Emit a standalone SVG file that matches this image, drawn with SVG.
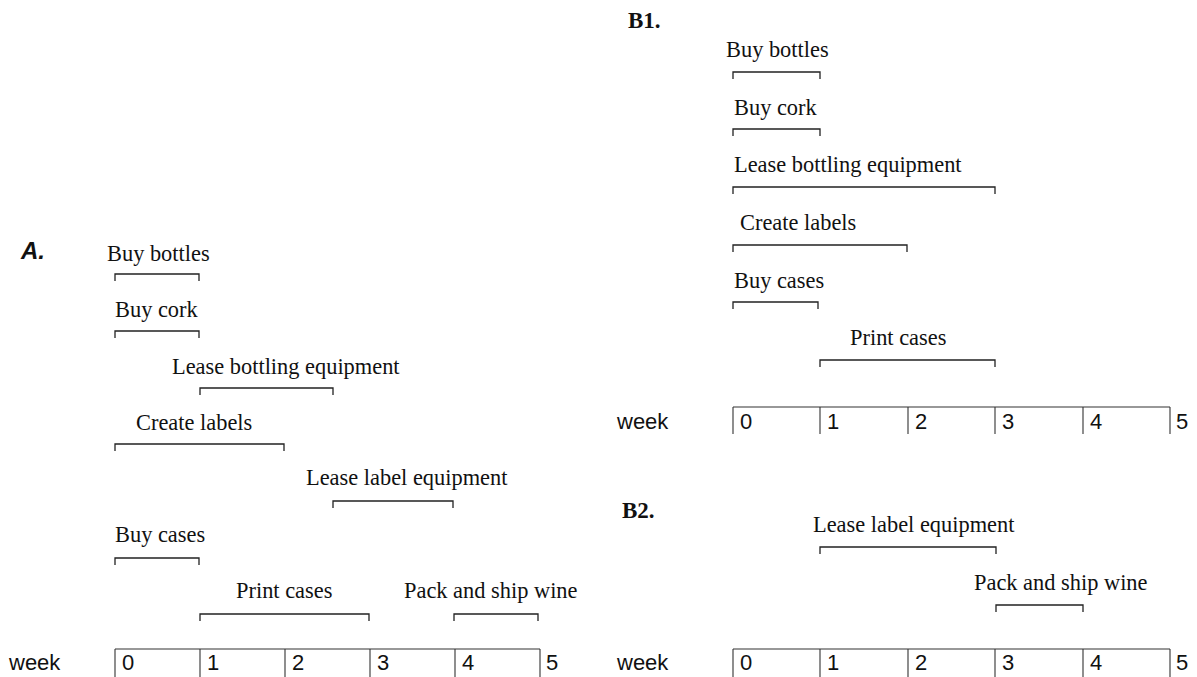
<svg xmlns="http://www.w3.org/2000/svg" width="1197" height="677" viewBox="0 0 1197 677">
  <style>
    .lbl { font-family: "Liberation Serif", "Times New Roman", serif; font-size: 22.4px; fill: #111; }
    .ttl { font-family: "Liberation Serif", "Times New Roman", serif; font-size: 23px; font-weight: bold; fill: #111; }
    .ttlA { font-family: "Liberation Sans", Arial, sans-serif; font-size: 24px; font-weight: bold; font-style: italic; fill: #111; }
    .ax { font-family: "Liberation Sans", Arial, sans-serif; font-size: 22px; fill: #111; }
    .br { fill: none; stroke: #222; stroke-width: 1.3; }
    .axl { fill: none; stroke: #333; stroke-width: 1.1; }
  </style>
  <rect width="1197" height="677" fill="#fff"/>

  <!-- Schedule A -->
  <g id="panel-a">
    <text class="ttlA" x="21" y="259">A.</text>
    <g id="a-buy-bottles">
      <text class="lbl" x="107" y="261">Buy bottles</text>
      <path class="br" d="M115,281 V274 H199 V281"/>
    </g>
    <g id="a-buy-cork">
      <text class="lbl" x="115" y="317">Buy cork</text>
      <path class="br" d="M115,338 V331 H199 V338"/>
    </g>
    <g id="a-lease-bottling">
      <text class="lbl" x="172" y="374">Lease bottling equipment</text>
      <path class="br" d="M200,395 V388 H333 V395"/>
    </g>
    <g id="a-create-labels">
      <text class="lbl" x="136" y="430">Create labels</text>
      <path class="br" d="M115,451 V444 H284 V451"/>
    </g>
    <g id="a-lease-label">
      <text class="lbl" x="306" y="485">Lease label equipment</text>
      <path class="br" d="M333,508 V501 H453 V508"/>
    </g>
    <g id="a-buy-cases">
      <text class="lbl" x="115" y="542">Buy cases</text>
      <path class="br" d="M115,565 V558 H199 V565"/>
    </g>
    <g id="a-print-cases">
      <text class="lbl" x="236" y="598">Print cases</text>
      <path class="br" d="M200,621 V614 H369 V621"/>
    </g>
    <g id="a-pack-ship">
      <text class="lbl" x="404" y="598">Pack and ship wine</text>
      <path class="br" d="M454,621 V614 H538 V621"/>
    </g>
    <g id="a-axis">
      <text class="ax" x="9" y="670">week</text>
      <path class="axl" d="M115,649 H540 M115,649 V677 M200,649 V677 M285,649 V677 M370,649 V677 M455,649 V677 M540,649 V677"/>
      <text class="ax" x="122" y="670">0</text>
      <text class="ax" x="207" y="670">1</text>
      <text class="ax" x="292" y="670">2</text>
      <text class="ax" x="377" y="670">3</text>
      <text class="ax" x="462" y="670">4</text>
      <text class="ax" x="546" y="670">5</text>
    </g>
  </g>

  <!-- Schedule B1 -->
  <g id="panel-b1">
    <text class="ttl" x="628" y="28">B1.</text>
    <g id="b1-buy-bottles">
      <text class="lbl" x="726" y="57">Buy bottles</text>
      <path class="br" d="M733,79 V72 H820 V79"/>
    </g>
    <g id="b1-buy-cork">
      <text class="lbl" x="734" y="115">Buy cork</text>
      <path class="br" d="M733,136 V129 H820 V136"/>
    </g>
    <g id="b1-lease-bottling">
      <text class="lbl" x="734" y="172">Lease bottling equipment</text>
      <path class="br" d="M733,194 V187 H995 V194"/>
    </g>
    <g id="b1-create-labels">
      <text class="lbl" x="740" y="230">Create labels</text>
      <path class="br" d="M733,252 V245 H907 V252"/>
    </g>
    <g id="b1-buy-cases">
      <text class="lbl" x="734" y="288">Buy cases</text>
      <path class="br" d="M733,309 V302 H818 V309"/>
    </g>
    <g id="b1-print-cases">
      <text class="lbl" x="850" y="345">Print cases</text>
      <path class="br" d="M820,367 V360 H995 V367"/>
    </g>
    <g id="b1-axis">
      <text class="ax" x="617" y="429">week</text>
      <path class="axl" d="M733,407 H1170 M733,407 V434 M820,407 V434 M908,407 V434 M995,407 V434 M1083,407 V434 M1170,407 V434"/>
      <text class="ax" x="740" y="429">0</text>
      <text class="ax" x="827" y="429">1</text>
      <text class="ax" x="915" y="429">2</text>
      <text class="ax" x="1002" y="429">3</text>
      <text class="ax" x="1090" y="429">4</text>
      <text class="ax" x="1176" y="429">5</text>
    </g>
  </g>

  <!-- Schedule B2 -->
  <g id="panel-b2">
    <text class="ttl" x="622" y="518">B2.</text>
    <g id="b2-lease-label">
      <text class="lbl" x="813" y="532">Lease label equipment</text>
      <path class="br" d="M820,554 V547 H996 V554"/>
    </g>
    <g id="b2-pack-ship">
      <text class="lbl" x="974" y="590">Pack and ship wine</text>
      <path class="br" d="M996,612 V605 H1083 V612"/>
    </g>
    <g id="b2-axis">
      <text class="ax" x="617" y="670">week</text>
      <path class="axl" d="M733,649 H1170 M733,649 V677 M820,649 V677 M908,649 V677 M995,649 V677 M1083,649 V677 M1170,649 V677"/>
      <text class="ax" x="740" y="670">0</text>
      <text class="ax" x="827" y="670">1</text>
      <text class="ax" x="915" y="670">2</text>
      <text class="ax" x="1002" y="670">3</text>
      <text class="ax" x="1090" y="670">4</text>
      <text class="ax" x="1176" y="670">5</text>
    </g>
  </g>
</svg>
